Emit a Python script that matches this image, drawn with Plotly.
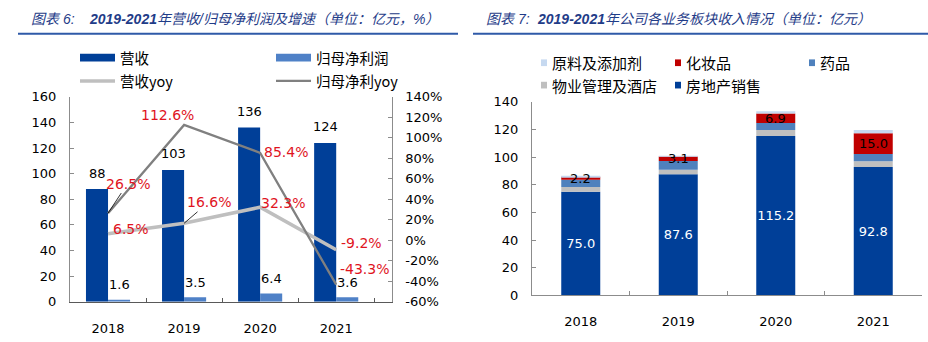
import numpy as np
import plotly.graph_objects as go

# ---- Chart 6: revenue / net profit and growth ----
years = ["2018", "2019", "2020", "2021"]
revenue = [88, 103, 136, 124]
net_profit = [1.6, 3.5, 6.4, 3.6]
revenue_yoy = [6.5, 16.6, 32.3, -9.2]
profit_yoy = [26.5, 112.6, 85.4, -43.3]
left_series = ["营收", "归母净利润", "营收yoy", "归母净利yoy"]
left_ticks = list(range(0, 161, 20))
pct_ticks = list(range(-60, 141, 20))

# ---- Chart 7: revenue by business segment (stack order bottom -> top) ----
segment_names = ["房地产销售", "物业管理及酒店", "药品", "化妆品", "原料及添加剂"]
real_estate = [75.0, 87.6, 115.2, 92.8]
property_hotel = [3.4, 3.3, 4.3, 4.2]
pharma = [5.2, 6.3, 5.1, 5.2]
cosmetics = [2.2, 3.1, 6.9, 15.0]
materials = [0.6, 0.5, 1.6, 2.3]
seg_ticks = list(range(0, 141, 20))

W, H = 928, 342


def fx(x):
    return x / W


def fy(y):
    return 1 - y / H


NUM_FONT = "DejaVu Sans, Noto Sans CJK SC"
CJK_FONT = "Noto Sans CJK SC"
TITLE_FONT = "Liberation Sans, Noto Sans CJK SC"
TITLE_BLUE = "#1F3C88"
RED_TXT = "#E0141E"

C_REV = "#003F98"
C_NP = "#4F81C7"
C_REV_YOY = "#BFBFBF"
C_NP_YOY = "#808080"
seg_colors = ["#003F98", "#BFBFBF", "#4F81BD", "#C00000", "#C6D9F0"]

fig = go.Figure()

# grouped bars via explicit offsets (two per year)
BW = 0.29
fig.add_trace(go.Bar(x=years, y=revenue, xaxis="x", yaxis="y", width=BW, offset=-BW,
                     marker=dict(color=C_REV, line=dict(width=0)), name=left_series[0]))
fig.add_trace(go.Bar(x=years, y=net_profit, xaxis="x", yaxis="y", width=BW, offset=0,
                     marker=dict(color=C_NP, line=dict(width=0)), name=left_series[1]))
fig.add_trace(go.Scatter(x=years, y=revenue_yoy, xaxis="x", yaxis="y2", mode="lines",
                         line=dict(color=C_REV_YOY, width=3.5), name=left_series[2]))
fig.add_trace(go.Scatter(x=years, y=profit_yoy, xaxis="x", yaxis="y2", mode="lines",
                         line=dict(color=C_NP_YOY, width=2.3), name=left_series[3]))

# stacked segments built from cumulative bases
segments = [real_estate, property_hotel, pharma, cosmetics, materials]
base = np.zeros(len(years))
for name, vals, col in zip(segment_names, segments, seg_colors):
    vals = np.array(vals, dtype=float)
    kw = {}
    if name == "房地产销售":
        kw = dict(text=[f"{v:.1f}" for v in vals], textposition="inside", textangle=0,
                  constraintext="none", insidetextanchor="middle",
                  textfont=dict(color="white", size=13, family=NUM_FONT))
    fig.add_trace(go.Bar(x=years, y=vals, base=base.copy(), xaxis="x2", yaxis="y3",
                         width=0.4, offset=-0.2, marker=dict(color=col, line=dict(width=0)),
                         name=name, **kw))
    base = base + vals

ann = []
# value labels above the bars of chart 6
for i, (r, n) in enumerate(zip(revenue, net_profit)):
    ann.append(dict(x=i - BW / 2, y=r, xref="x", yref="y", text=str(r), showarrow=False,
                    yanchor="middle", yshift=16, font=dict(size=13, color="black", family=NUM_FONT)))
    ann.append(dict(x=i + BW / 2, y=n, xref="x", yref="y", text=f"{n:.1f}", showarrow=False,
                    yanchor="middle", yshift=15, font=dict(size=13, color="black", family=NUM_FONT)))

# growth labels (pixel offsets from each point; some with leader lines)
rev_off = [(23, 5, False), (24.5, 21, True), (23, 4, False), (25.5, 7, False)]
np_off = [(19.5, 29.6, True), (-16.5, 10, False), (26, 1, False), (28.5, 16, False)]
for vals, offs in ((revenue_yoy, rev_off), (profit_yoy, np_off)):
    for i, (v, (dx, dy, lead)) in enumerate(zip(vals, offs)):
        f = dict(size=14, color=RED_TXT, family=NUM_FONT)
        if lead:
            ann.append(dict(x=i, y=v, xref="x", yref="y2", text=f"{v:.1f}%", showarrow=True,
                            ax=dx, ay=-dy, axref="pixel", ayref="pixel", arrowhead=0,
                            arrowwidth=0.8, arrowcolor="black", standoff=0,
                            xanchor="center", yanchor="middle", font=f))
        else:
            ann.append(dict(x=i, y=v, xref="x", yref="y2", text=f"{v:.1f}%", showarrow=False,
                            xshift=dx, yshift=dy, xanchor="center", yanchor="middle", font=f))

# cosmetics labels centred on their (thin) segments
cos_base = np.array(real_estate) + np.array(property_hotel) + np.array(pharma)
for i, (b, v) in enumerate(zip(cos_base, cosmetics)):
    ann.append(dict(x=i, y=b + v / 2, xref="x2", yref="y3", text=f"{v:.1f}", showarrow=False,
                    xanchor="center", yanchor="middle",
                    font=dict(size=13, color="black", family=NUM_FONT)))


# titles
def title(x0, num, mid_x, rest_x, rest):
    return [
        dict(x=fx(x0), y=fy(13), xref="paper", yref="paper", xanchor="left", yanchor="middle",
             showarrow=False, text=f"<i>图表 {num}:</i>",
             font=dict(size=14, color=TITLE_BLUE, family=TITLE_FONT)),
        dict(x=fx(mid_x), y=fy(13), xref="paper", yref="paper", xanchor="left", yanchor="middle",
             showarrow=False, text="<b><i>2019-2021</i></b>",
             font=dict(size=14, color=TITLE_BLUE, family=TITLE_FONT)),
        dict(x=fx(rest_x), y=fy(13), xref="paper", yref="paper", xanchor="left", yanchor="middle",
             showarrow=False, text=f"<i>{rest}</i>",
             font=dict(size=14, color=TITLE_BLUE, family=TITLE_FONT)),
    ]


ann += title(29, 6, 87, 155, "年营收/归母净利润及增速（单位：亿元，%）")
ann += title(484, 7, 535, 603, "年公司各业务板块收入情况（单位：亿元）")

shapes = [
    dict(type="line", xref="paper", yref="paper", x0=fx(18), x1=fx(458), y0=fy(28), y1=fy(28),
         line=dict(color="#2F5AA8", width=2)),
    dict(type="line", xref="paper", yref="paper", x0=fx(473), x1=fx(928), y0=fy(28), y1=fy(28),
         line=dict(color="#2F5AA8", width=2)),
]

# legend for chart 6
leg6 = [(80, 53, "rect", C_REV), (276, 53, "rect", C_NP),
        (80, 77.3, "line", C_REV_YOY), (276, 77.3, "line", C_NP_YOY)]
for (x0, yc, kind, col), label in zip(leg6, left_series):
    if kind == "rect":
        shapes.append(dict(type="rect", xref="paper", yref="paper", x0=fx(x0), x1=fx(x0 + 35),
                           y0=fy(yc + 4), y1=fy(yc - 4), line=dict(width=0), fillcolor=col))
    else:
        shapes.append(dict(type="line", xref="paper", yref="paper", x0=fx(x0), x1=fx(x0 + 35),
                           y0=fy(yc), y1=fy(yc),
                           line=dict(color=col, width=3.5 if col == C_REV_YOY else 2.3)))
    ann.append(dict(x=fx(x0 + 38), y=fy(yc), xref="paper", yref="paper", xanchor="left",
                    yanchor="middle", showarrow=False, text=label,
                    font=dict(size=14.5, color="black", family=CJK_FONT)))

# legend for chart 7
leg7_pos = {"原料及添加剂": (541, 58.3), "化妆品": (675, 58.3), "药品": (809, 58.3),
            "物业管理及酒店": (541, 81.7), "房地产销售": (675, 81.7)}
for name, col in zip(segment_names, seg_colors):
    x0, yc = leg7_pos[name]
    shapes.append(dict(type="rect", xref="paper", yref="paper", x0=fx(x0), x1=fx(x0 + 6),
                       y0=fy(yc + 3.5), y1=fy(yc - 3.5), line=dict(width=0), fillcolor=col))
    ann.append(dict(x=fx(x0 + 9), y=fy(yc), xref="paper", yref="paper", xanchor="left",
                    yanchor="middle", showarrow=False, text=name,
                    font=dict(size=15, color="black", family=CJK_FONT)))

tick_font = dict(size=13, color="black", family=NUM_FONT)
axis_common = dict(showgrid=False, zeroline=False, showline=True, ticks="inside", ticklen=4,
                   tickfont=tick_font, fixedrange=True)

fig.update_layout(
    width=W, height=H, margin=dict(l=0, r=0, t=0, b=0),
    paper_bgcolor="white", plot_bgcolor="white", showlegend=False,
    barmode="group",
    xaxis=dict(domain=[fx(70), fx(391.7)], anchor="y", type="category",
               tickson="boundaries", linecolor="#595959", tickcolor="#595959",
               ticklabelstandoff=15, **axis_common),
    yaxis=dict(domain=[fy(308.3), fy(94)], anchor="x", range=[0, 160],
               tickmode="array", tickvals=left_ticks, ticktext=[str(t) for t in left_ticks],
               linecolor="#8C8C8C", tickcolor="#8C8C8C", ticklabelstandoff=10, **axis_common),
    yaxis2=dict(overlaying="y", side="right", anchor="x", range=[-60, 140],
                tickmode="array", tickvals=pct_ticks, ticktext=[f"{t}%" for t in pct_ticks],
                linecolor="#8C8C8C", tickcolor="#8C8C8C", ticklabelstandoff=10, **axis_common),
    xaxis2=dict(domain=[fx(532), fx(922)], anchor="y3", type="category",
                tickson="boundaries", linecolor="#8C8C8C", tickcolor="#8C8C8C",
                ticklabelstandoff=14, **axis_common),
    yaxis3=dict(domain=[fy(301.7), fy(99)], anchor="x2", range=[0, 140],
                tickmode="array", tickvals=seg_ticks, ticktext=[str(t) for t in seg_ticks],
                linecolor="#8C8C8C", tickcolor="#8C8C8C", ticklabelstandoff=10, **axis_common),
    annotations=ann, shapes=shapes,
)

fig.write_html("out.html")
